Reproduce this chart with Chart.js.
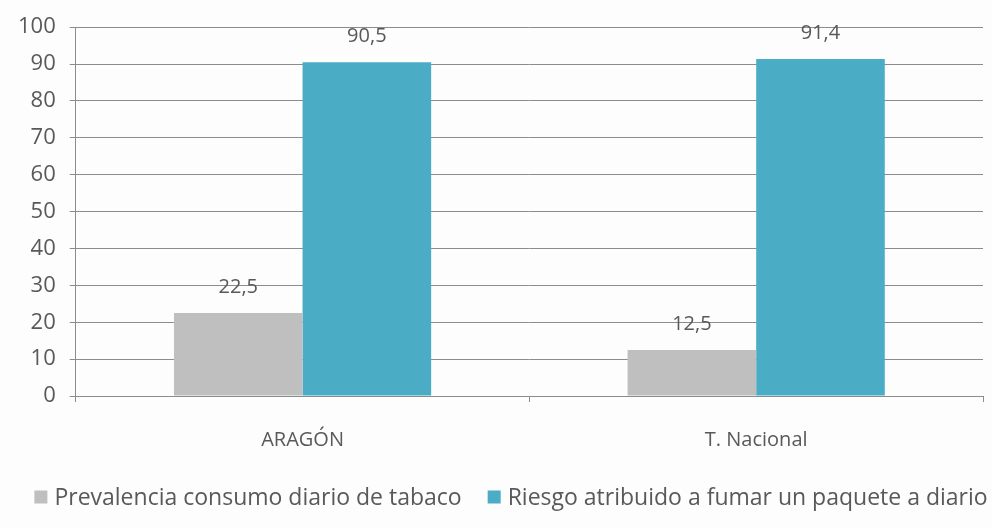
<!DOCTYPE html>
<html>
<head>
<meta charset="utf-8">
<script src="https://cdn.jsdelivr.net/npm/chart.js@4"></script>
<style>
  html, body { margin: 0; padding: 0; background: #fdfdfd; }
  #wrap { width: 992px; height: 528px; }
</style>
</head>
<body>
<div id="wrap"><canvas id="chart"></canvas></div>
<script>
const categories = ["ARAGÓN", "T. Nacional"];
const prevalencia = [22.5, 12.5];
const riesgo = [90.5, 91.4];
const seriesNames = ["Prevalencia consumo diario de tabaco", "Riesgo atribuido a fumar un paquete a diario"];
const seriesColors = ["#bfbfbf", "#4bacc6"];

const textColor = "#595959";
const gridColor = "#8c8c8c";

// values over the bars, with comma decimals
const valueLabels = {
    id: "valueLabels",
    afterDatasetsDraw(chart) {
        const c = chart.ctx;
        c.save();
        c.font = "20px 'Open Sans'";
        c.fillStyle = textColor;
        c.textAlign = "center";
        c.textBaseline = "middle";
        chart.data.datasets.forEach((ds, i) => {
            chart.getDatasetMeta(i).data.forEach((bar, j) => {
                c.fillText(ds.data[j].toFixed(1).replace(".", ","), bar.x, bar.y - 26);
            });
        });
        c.restore();
    }
};

// one-row legend at the bottom (the built-in one wraps at this width)
const bottomLegend = {
    id: "bottomLegend",
    afterDraw(chart) {
        const c = chart.ctx;
        const box = 13, gap = 7, itemGap = 26, y = 497;
        c.save();
        c.font = "23px 'Open Sans'";
        c.textBaseline = "middle";
        const widths = seriesNames.map(n => box + gap + c.measureText(n).width);
        const total = widths.reduce((a, b) => a + b, 0) + itemGap;
        let x = 511 - total / 2;
        seriesNames.forEach((name, i) => {
            c.fillStyle = seriesColors[i];
            c.fillRect(x, y - box / 2, box, box);
            c.fillStyle = textColor;
            c.fillText(name, x + box + gap, y + 1);
            x += widths[i] + itemGap;
        });
        c.restore();
    }
};

new Chart(document.getElementById("chart"), {
    type: "bar",
    data: {
        labels: categories,
        datasets: [
            {
                label: seriesNames[0],
                data: prevalencia,
                backgroundColor: seriesColors[0]
            },
            {
                label: seriesNames[1],
                data: riesgo,
                backgroundColor: seriesColors[1]
            }
        ]
    },
    options: {
        responsive: true,
        maintainAspectRatio: false,
        animation: false,
        layout: {
            padding: { top: 6, right: 9, left: 4, bottom: 50 }
        },
        datasets: {
            bar: {
                categoryPercentage: 0.567,
                barPercentage: 1
            }
        },
        scales: {
            x: {
                grid: {
                    offset: true,
                    drawOnChartArea: false,
                    color: gridColor,
                    tickLength: 6
                },
                border: { color: gridColor },
                ticks: {
                    color: textColor,
                    font: { family: "'Open Sans'", size: 20 },
                    padding: 26
                }
            },
            y: {
                min: 0,
                max: 100,
                ticks: {
                    stepSize: 10,
                    color: textColor,
                    font: { family: "'Open Sans'", size: 22 },
                    padding: 14
                },
                grid: {
                    color: gridColor,
                    tickLength: 6
                },
                border: { color: gridColor }
            }
        },
        plugins: {
            legend: { display: false },
            tooltip: { enabled: false }
        }
    },
    plugins: [valueLabels, bottomLegend]
});
</script>
</body>
</html>
